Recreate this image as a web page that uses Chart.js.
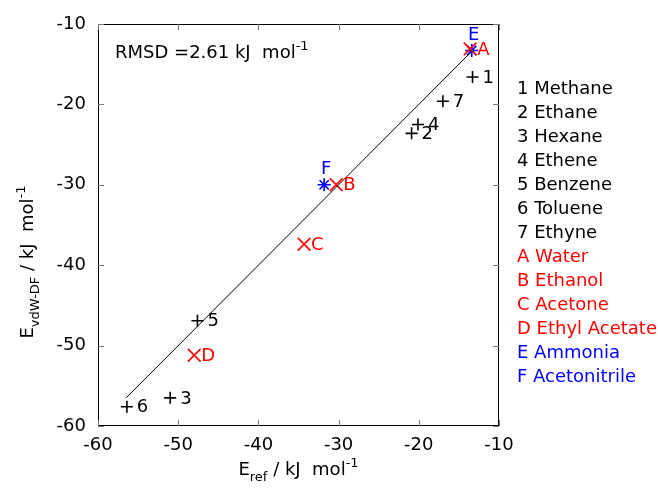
<!DOCTYPE html>
<html>
<head>
<meta charset="utf-8">
<script src="https://cdn.jsdelivr.net/npm/chart.js@4.4.1/dist/chart.umd.min.js"></script>
<style>
  body { margin: 0; background: #fff; }
  #wrap { width: 658px; height: 489px; }
</style>
</head>
<body>
<div id="wrap"><canvas id="chart" width="658" height="489"></canvas></div>
<script>
// Hydrocarbons (labelled 1-7)
const numLabels = ['1', '2', '3', '4', '5', '6', '7'];
const numRef = [-13.3, -20.9, -51.0, -20.1, -47.6, -56.4, -17.0];
const numVdw = [-16.6, -23.6, -56.5, -22.5, -46.9, -57.6, -19.6];

// Oxygen containing (A-D)
const redLabels = ['A', 'B', 'C', 'D'];
const redRef = [-13.6, -30.3, -34.3, -48.0];
const redVdw = [-13.1, -30.0, -37.4, -51.2];

// Nitrogen containing (E-F)
const blueLabels = ['E', 'F'];
const blueRef = [-13.4, -31.8];
const blueVdw = [-13.3, -30.0];

// y = x reference line
const lineX = [-56.5, -13.4];

const axisTicks = [-60, -50, -40, -30, -20, -10];

const legendNames = [
  '1 Methane', '2 Ethane', '3 Hexane', '4 Ethene', '5 Benzene', '6 Toluene', '7 Ethyne',
  'A Water', 'B Ethanol', 'C Acetone', 'D Ethyl Acetate', 'E Ammonia', 'F Acetonitrile'
];
const legendColors = [
  '#000', '#000', '#000', '#000', '#000', '#000', '#000',
  '#ff0000', '#ff0000', '#ff0000', '#ff0000', '#0000ff', '#0000ff'
];

const FONT = '"DejaVu Sans", sans-serif';

function toPoints(xs, ys) {
  return xs.map((x, i) => ({ x, y: ys[i] }));
}

// draw text made of normal / sub / sup parts, starting at x on baseline y
function richWidth(ctx, parts, size) {
  let w = 0;
  parts.forEach(p => {
    ctx.font = (p.s ? Math.round(size * 0.72) : size) + 'px ' + FONT;
    w += ctx.measureText(p.t).width;
  });
  return w;
}
function drawRich(ctx, parts, x, y, size) {
  let cx = x;
  parts.forEach(p => {
    const fs = p.s ? Math.round(size * 0.72) : size;
    ctx.font = fs + 'px ' + FONT;
    let dy = 0;
    if (p.s === 'sub') dy = size * 0.35;
    if (p.s === 'sup') dy = -size * 0.45;
    ctx.fillText(p.t, cx, y + dy);
    cx += ctx.measureText(p.t).width;
  });
}

const decorations = {
  id: 'decorations',
  afterDraw(chart) {
    const ctx = chart.ctx;
    const area = chart.chartArea;
    const xs = chart.scales.x;
    const ys = chart.scales.y;
    ctx.save();

    // frame and inward ticks on all sides
    ctx.strokeStyle = '#000';
    ctx.lineWidth = 1;
    ctx.strokeRect(area.left + 0.5, area.top + 0.5, area.right - area.left - 1, area.bottom - area.top - 1);
    ctx.strokeStyle = '#777';
    axisTicks.forEach(v => {
      const px = Math.round(xs.getPixelForValue(v)) + 0.5;
      const py = Math.round(ys.getPixelForValue(v)) + 0.5;
      ctx.beginPath();
      ctx.moveTo(px, area.bottom); ctx.lineTo(px, area.bottom - 6);
      ctx.moveTo(px, area.top); ctx.lineTo(px, area.top + 6);
      ctx.moveTo(area.left, py); ctx.lineTo(area.left + 6, py);
      ctx.moveTo(area.right, py); ctx.lineTo(area.right - 6, py);
      ctx.stroke();
    });

    // point labels
    ctx.textBaseline = 'middle';
    ctx.font = '18px ' + FONT;
    ctx.fillStyle = '#000';
    ctx.textAlign = 'left';
    numLabels.forEach((l, i) => {
      ctx.fillText(l, xs.getPixelForValue(numRef[i]) + 10, ys.getPixelForValue(numVdw[i]) + 1);
    });
    ctx.fillStyle = '#ff0000';
    redLabels.forEach((l, i) => {
      ctx.fillText(l, xs.getPixelForValue(redRef[i]) + 7, ys.getPixelForValue(redVdw[i]) + 1);
    });
    ctx.fillStyle = '#0000ff';
    ctx.textAlign = 'center';
    blueLabels.forEach((l, i) => {
      ctx.fillText(l, xs.getPixelForValue(blueRef[i]) + 2, ys.getPixelForValue(blueVdw[i]) - 15);
    });

    // legend list on the right
    ctx.textAlign = 'left';
    ctx.font = '18px ' + FONT;
    legendNames.forEach((name, i) => {
      ctx.fillStyle = legendColors[i];
      ctx.fillText(name, 517, 89 + i * 24);
    });

    // RMSD annotation
    ctx.fillStyle = '#000';
    ctx.textBaseline = 'alphabetic';
    drawRich(ctx, [{ t: 'RMSD =2.61 kJ  mol' }, { t: '-1', s: 'sup' }], 115, 58, 18);

    // x axis title
    const xParts = [{ t: 'E' }, { t: 'ref', s: 'sub' }, { t: ' / kJ  mol' }, { t: '-1', s: 'sup' }];
    const xw = richWidth(ctx, xParts, 18);
    drawRich(ctx, xParts, (area.left + area.right) / 2 - xw / 2, 475, 18);

    // y axis title
    const yParts = [{ t: 'E' }, { t: 'vdW-DF', s: 'sub' }, { t: ' / kJ  mol' }, { t: '-1', s: 'sup' }];
    const yw = richWidth(ctx, yParts, 18);
    ctx.translate(33, 262);
    ctx.rotate(-Math.PI / 2);
    drawRich(ctx, yParts, -yw / 2, 0, 18);

    ctx.restore();
  }
};

const tickFont = { family: FONT, size: 18 };

new Chart(document.getElementById('chart'), {
  type: 'scatter',
  data: {
    datasets: [
      {
        type: 'line',
        data: toPoints(lineX, lineX),
        borderColor: '#000',
        borderWidth: 1,
        pointRadius: 0,
        fill: false
      },
      {
        data: toPoints(numRef, numVdw),
        pointStyle: 'cross',
        pointRadius: 6,
        borderColor: '#000',
        borderWidth: 1.6
      },
      {
        data: toPoints(redRef, redVdw),
        pointStyle: 'crossRot',
        pointRadius: 9,
        borderColor: '#ff0000',
        borderWidth: 1.6
      },
      {
        data: toPoints(blueRef, blueVdw),
        pointStyle: 'star',
        pointRadius: 6.5,
        borderColor: '#0000ff',
        borderWidth: 1.6
      }
    ]
  },
  options: {
    responsive: false,
    animation: false,
    layout: { padding: { left: 0, right: 159, top: 24, bottom: 0 } },
    plugins: { legend: { display: false }, tooltip: { enabled: false } },
    scales: {
      x: {
        type: 'linear',
        min: -60,
        max: -10,
        afterFit: s => { s.height = 63; },
        afterBuildTicks: s => { s.ticks = axisTicks.map(v => ({ value: v })); },
        grid: { display: false, drawTicks: false },
        border: { display: false },
        ticks: { font: tickFont, color: '#000', padding: 9, maxRotation: 0 }
      },
      y: {
        type: 'linear',
        min: -60,
        max: -10,
        afterFit: s => { s.width = 98; },
        afterBuildTicks: s => { s.ticks = axisTicks.map(v => ({ value: v })); },
        grid: { display: false, drawTicks: false },
        border: { display: false },
        ticks: { font: tickFont, color: '#000', padding: 12 }
      }
    }
  },
  plugins: [decorations]
});
</script>
</body>
</html>
